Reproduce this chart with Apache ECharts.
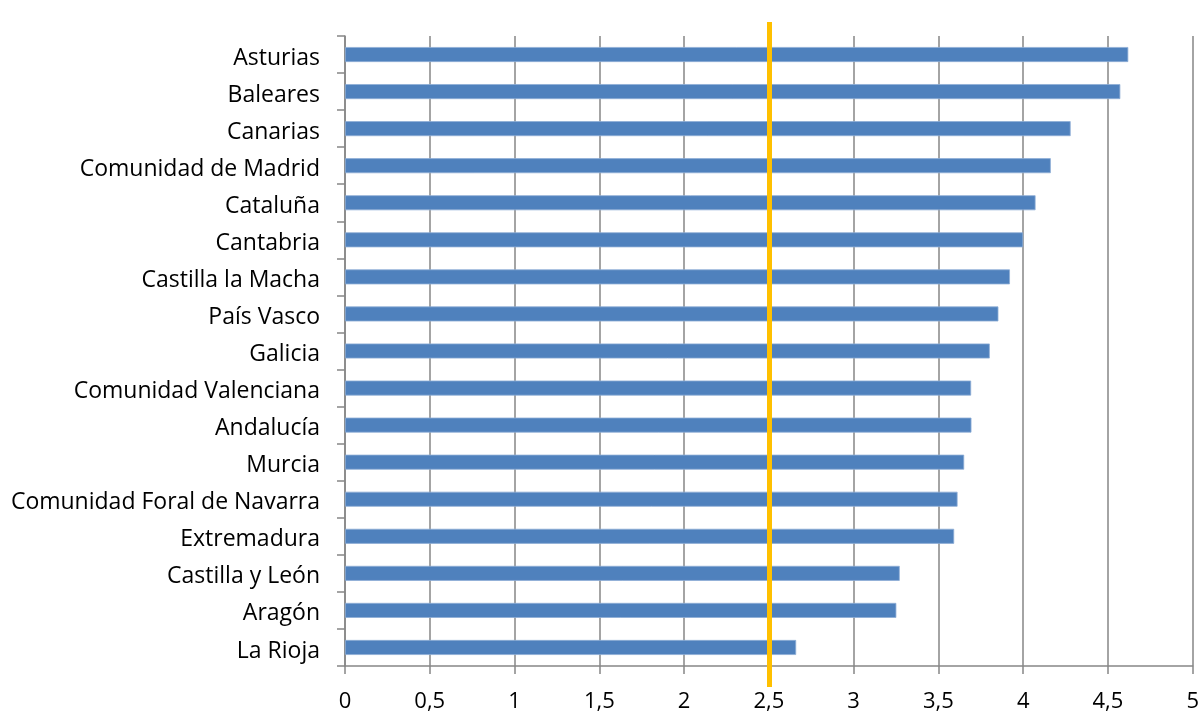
<!DOCTYPE html>
<html>
<head>
<meta charset="utf-8">
<script src="https://cdn.jsdelivr.net/npm/echarts@6/dist/echarts.min.js"></script>
<style>
html,body{margin:0;padding:0;background:#fff;}
#chart{width:1202px;height:713px;}
</style>
</head>
<body>
<div id="chart"></div>
<script>
const categories = ["Asturias","Baleares","Canarias","Comunidad de Madrid","Cataluña","Cantabria","Castilla la Macha","País Vasco","Galicia","Comunidad Valenciana","Andalucía","Murcia","Comunidad Foral de Navarra","Extremadura","Castilla y León","Aragón","La Rioja"];
const values = [4.62,4.573,4.28,4.163,4.073,4.0,3.922,3.854,3.803,3.693,3.695,3.652,3.613,3.593,3.272,3.252,2.661];
const referenceValue = 2.5;
const xMin = 0, xMax = 5, xStep = 0.5;

const chart = echarts.init(document.getElementById('chart'));
const axisGray = '#868686';
const font = '"Open Sans", "Noto Sans", sans-serif';
chart.setOption({
  animation: false,
  grid: {left: 345, right: 6, top: 36, bottom: 47, containLabel: false},
  xAxis: {
    type: 'value', min: xMin, max: xMax, interval: xStep,
    axisLine: {show: true, lineStyle: {color: axisGray, width: 1.5}},
    axisTick: {show: true, length: 8, lineStyle: {color: axisGray, width: 1.5}},
    splitLine: {show: true, lineStyle: {color: axisGray, width: 1.5}},
    axisLabel: {color: '#000', fontSize: 22, fontFamily: font, margin: 25,
      formatter: v => String(v).replace('.', ',')}
  },
  yAxis: {
    type: 'category', data: categories, inverse: true,
    axisLine: {show: true, lineStyle: {color: axisGray, width: 1.5}},
    axisTick: {show: true, length: 8, lineStyle: {color: axisGray, width: 1.5}},
    axisLabel: {color: '#000', fontSize: 23, fontFamily: font, margin: 25,
      formatter: v => '{t|' + v + '}',
      rich: {t: {color: '#000', fontSize: 23, fontFamily: font, padding: [7, 0, 0, 0]}}}
  },
  series: [{
    type: 'bar', data: values, barWidth: 15,
    itemStyle: {color: '#4F81BD', borderColor: '#8EADD6', borderWidth: 0.8},
    markLine: {
      silent: true, symbol: 'none',
      label: {show: false},
      lineStyle: {color: '#FFC000', width: 5, type: 'solid'},
      data: [[{xAxis: referenceValue, y: 22}, {xAxis: referenceValue, y: 687}]]
    }
  }]
});
</script>
</body>
</html>
